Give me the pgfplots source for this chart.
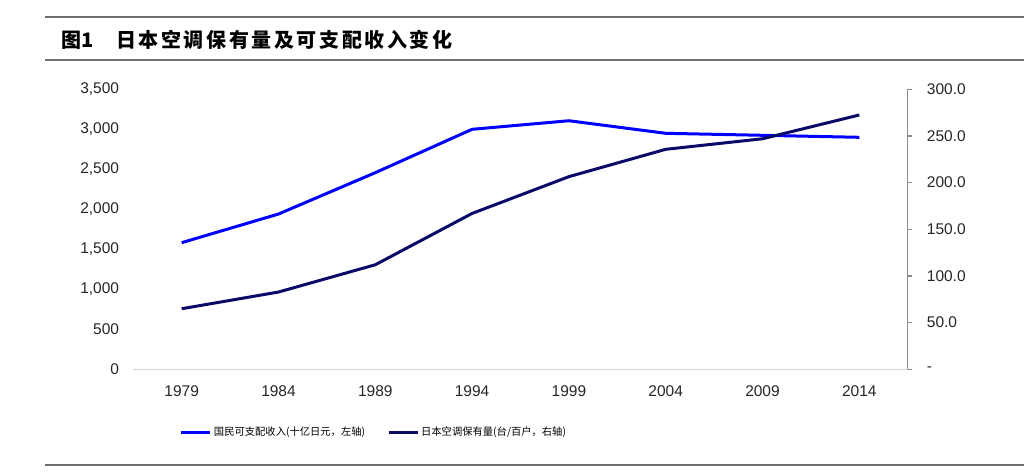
\documentclass[border=0pt]{standalone}
\usepackage{pgfplots}
\pgfplotsset{compat=1.18}
\usepackage{fontspec}
\setmainfont{Liberation Sans}
\newfontfamily\cjk{Noto Sans CJK SC}
\newfontfamily\cjktitle[LetterSpace=13]{Noto Sans CJK SC}
\definecolor{lblue}{RGB}{0,0,255}
\definecolor{navy}{RGB}{10,10,105}
\definecolor{rulegray}{RGB}{110,110,110}
\definecolor{axgray}{RGB}{140,140,140}
\definecolor{xgray}{RGB}{210,210,210}
\begin{document}
\begin{tikzpicture}[x=1pt,y=1pt]
\path[use as bounding box] (0,0) rectangle (1024,472);
\draw[rulegray, line width=1.3pt] (45,455) -- (1024,455);
\draw[rulegray, line width=1.3pt] (45,412) -- (1024,412);
\draw[rulegray, line width=1.3pt] (45,7) -- (1024,7);
\node[anchor=west, inner sep=0pt, font=\cjk\bfseries\fontsize{20}{20}\selectfont] at (61,432) {图1};
\node[anchor=west, inner sep=0pt, font=\cjktitle\bfseries\fontsize{20}{20}\selectfont] at (116,432) {日本空调保有量及可支配收入变化};

\begin{axis}[
  scale only axis, width=774.4pt, height=280pt,
  at={(133.3pt,102.7pt)}, anchor=south west,
  xmin=-0.5, xmax=7.5, ymin=0, ymax=3500,
  axis x line*=bottom, axis y line*=left,
  x axis line style={draw=xgray, line width=1pt, -},
  y axis line style={draw=none},
  major tick length=0pt,
  xtick={0,...,7},
  xticklabels={1979,1984,1989,1994,1999,2004,2009,2014},
  ytick={0,500,...,3500},
  yticklabels={0,500,{1,000},{1,500},{2,000},{2,500},{3,000},{3,500}},
  tick label style={font=\fontsize{15.5}{15.5}\selectfont, text=black!85},
  yticklabel style={inner sep=0pt, xshift=-14pt},
  xticklabel style={inner sep=0pt, yshift=-16pt},
  clip=false,
]
\addplot[lblue, line width=3pt] coordinates {
(0,1583) (1,1941) (2,2458) (3,3000) (4,3107) (5,2950) (6,2925) (7,2900)};
\end{axis}

\begin{axis}[
  scale only axis, width=774.4pt, height=280pt,
  at={(133.3pt,102.7pt)}, anchor=south west,
  xmin=-0.5, xmax=7.5, ymin=0, ymax=300,
  axis x line=none, axis y line*=right,
  y axis line style={draw=axgray, line width=1.2pt, -},
  ytick style={draw=axgray, line width=1.2pt},
  tick align=outside, major tick length=4pt,
  ytick={0,50,...,300},
  yticklabels={-,50.0,100.0,150.0,200.0,250.0,300.0},
  yticklabel style={font=\fontsize{15.5}{15.5}\selectfont, text=black!85, inner sep=0pt, xshift=15pt, anchor=west},
  clip=false,
  legend columns=2,
  legend style={at={(0.06,-0.224)}, anchor=west, draw=none, fill=none,
    font=\cjk\fontsize{10.3}{10.3}\selectfont, inner sep=0pt,
    /tikz/every even column/.append style={column sep=20pt}},
  legend cell align=left,
  legend image code/.code={\draw[#1, line width=3pt] (0pt,0pt) -- (29pt,0pt);},
]
\addlegendimage{lblue}
\addlegendentry{国民可支配收入(十亿日元，左轴)}
\addplot[navy, line width=3pt] coordinates {
(0,64.9) (1,82.8) (2,112) (3,167) (4,206.4) (5,235.7) (6,247) (7,272.5)};
\addlegendentry{日本空调保有量(台/百户，右轴)}
\end{axis}
\end{tikzpicture}
\end{document}
